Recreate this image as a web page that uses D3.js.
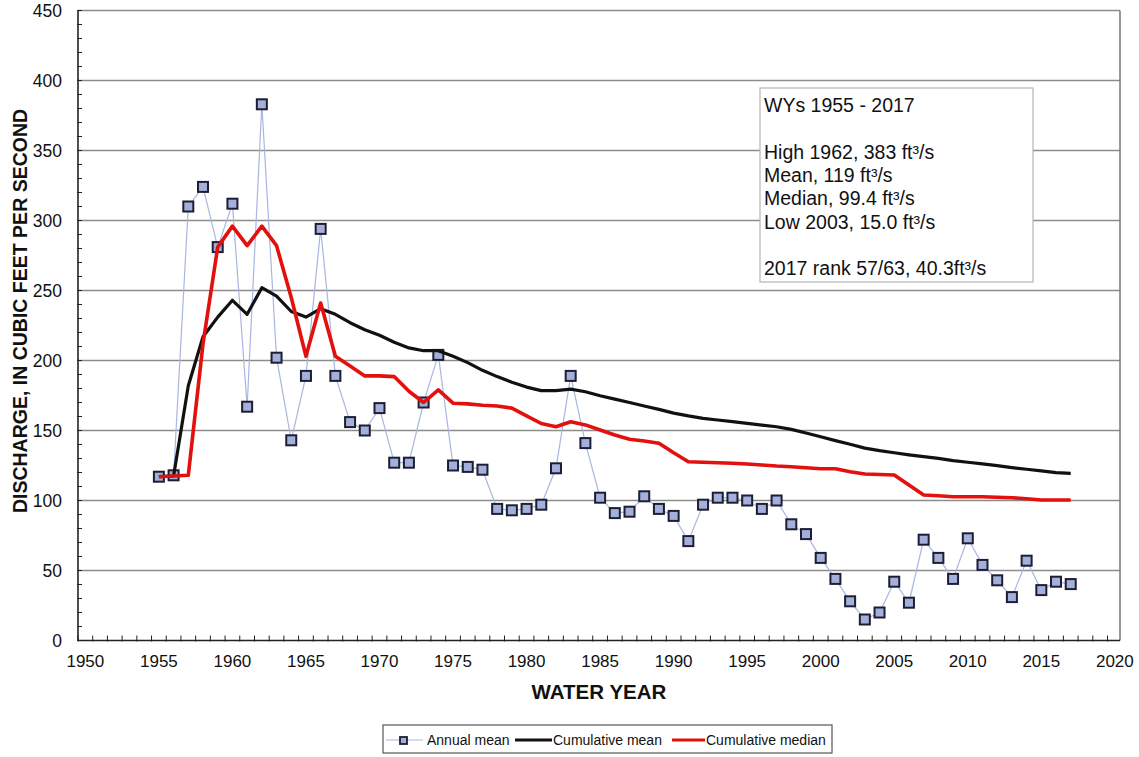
<!DOCTYPE html>
<html lang="en">
<head>
<meta charset="UTF-8">
<title>Annual mean discharge, WYs 1955 - 2017</title>
<script src="https://d3js.org/d3.v7.min.js"></script>
<style>
  body { margin: 0; background: #fff; }
  svg { display: block; font-family: "Liberation Sans", Arial, sans-serif; }
</style>
</head>
<body>
<svg id="chart" width="1139" height="757"></svg>
<script>
// water years, first one of the record
var firstYear = 1955;

// annual mean discharge, ft3/s
var annualMean = [117, 118, 310, 324, 281, 312, 167, 383, 202, 143,
                  189, 294, 189, 156, 150, 166, 127, 127, 170, 204,
                  125, 124, 122, 94, 93, 94, 97, 123, 189, 141,
                  102, 91, 92, 103, 94, 89, 71, 97, 102, 102,
                  100, 94, 100, 83, 76, 59, 44, 28, 15, 20,
                  42, 27, 72, 59, 44, 73, 54, 43, 31, 57,
                  36, 42, 40.3];

// cumulative mean, ft3/s
var cumMean = [117, 117.5, 182, 217, 231, 243, 233, 252, 246, 235,
               231, 237, 233, 227, 222, 218, 213, 209, 207, 207,
               203, 198.5, 193, 188.5, 184.5, 181, 178.5, 178.5, 179.5, 177.7,
               174.8, 172.4, 170, 167.5, 165.1, 162.4, 160.4, 158.7, 157.5, 156.3,
               155.1, 153.9, 152.7, 150.8, 148.2, 145.5, 142.8, 140.2, 137.4, 135.6,
               134.1, 132.6, 131.3, 130.1, 128.5, 127.3, 126.1, 124.9, 123.5, 122.3,
               121.1, 119.9, 119.4];

// cumulative median, ft3/s
var cumMedian = [117, 117.5, 118, 212, 281, 296, 282, 296, 282, 245,
                 203, 241, 203, 196, 189, 189, 188.5, 178, 170, 179,
                 169.5, 169, 168, 167.5, 166, 160.5, 155, 152.7, 156.3, 154,
                 150.4, 146.8, 143.7, 142.5, 140.9, 134.1, 127.7, 127.3, 127, 126.6,
                 126.1, 125.4, 124.6, 124.1, 123.4, 122.7, 122.7, 120.6, 118.9, 118.6,
                 118.2, 111, 103.9, 103.4, 102.7, 102.7, 102.7, 102.3, 102, 101.3,
                 100.4, 100.4, 100.4];

var xTickLabels = [1950, 1955, 1960, 1965, 1970, 1975, 1980, 1985, 1990, 1995, 2000, 2005, 2010, 2015, 2020];
var yTickLabels = [0, 50, 100, 150, 200, 250, 300, 350, 400, 450];

var notes = ["WYs 1955 - 2017", "", "High 1962, 383 ft³/s", "Mean, 119 ft³/s",
             "Median, 99.4 ft³/s", "Low 2003, 15.0 ft³/s", "", "2017 rank 57/63, 40.3ft³/s"];

var svg = d3.select("#chart");
// plot frame (window.top is taken, so prefixed names)
var plotL = 78, plotR = 1120, plotT = 10.5, plotB = 640.5;

// points sit in the middle of each year, ticks on the year boundaries
var x = d3.scaleLinear().domain([1949.5, 2020.35]).range([plotL, plotR]);
var y = d3.scaleLinear().domain([0, 450]).range([plotB, plotT]);

var years = annualMean.map(function(d, i) { return firstYear + i; });

svg.append("rect").attr("width", 1139).attr("height", 757).attr("fill", "#fff");

// grid
svg.append("g").selectAll("line")
  .data(yTickLabels.slice(1))
  .join("line")
  .attr("x1", plotL).attr("x2", plotR)
  .attr("y1", function(d) { return y(d); }).attr("y2", function(d) { return y(d); })
  .attr("stroke", "#8c8c8c").attr("stroke-width", 1.3);

svg.append("line").attr("x1", plotR).attr("x2", plotR).attr("y1", plotT).attr("y2", plotB)
  .attr("stroke", "#777").attr("stroke-width", 1.5);

// minor ticks
svg.append("g").selectAll("line")
  .data(d3.range(0, 451, 10))
  .join("line")
  .attr("x1", plotL - 1).attr("x2", plotL + 4)
  .attr("y1", function(d) { return y(d); }).attr("y2", function(d) { return y(d); })
  .attr("stroke", "#222").attr("stroke-width", 1);

svg.append("g").selectAll("line")
  .data(d3.range(1949.5, 2020.4, 1))
  .join("line")
  .attr("x1", function(d) { return x(d); }).attr("x2", function(d) { return x(d); })
  .attr("y1", plotB + 1).attr("y2", plotB - 5)
  .attr("stroke", "#222").attr("stroke-width", 1);

// axes
svg.append("line").attr("x1", plotL).attr("x2", plotL).attr("y1", plotT).attr("y2", plotB)
  .attr("stroke", "#222").attr("stroke-width", 1.6);
svg.append("line").attr("x1", plotL).attr("x2", plotR).attr("y1", plotB).attr("y2", plotB)
  .attr("stroke", "#222").attr("stroke-width", 1.6);

svg.append("g").selectAll("text")
  .data(yTickLabels)
  .join("text")
  .attr("x", 62).attr("y", function(d) { return y(d); })
  .attr("dy", "0.36em")
  .attr("text-anchor", "end")
  .attr("font-size", 17.5).attr("fill", "#111")
  .text(function(d) { return d; });

svg.append("g").selectAll("text")
  .data(xTickLabels)
  .join("text")
  .attr("x", function(d) { return x(d); }).attr("y", 667)
  .attr("text-anchor", "middle")
  .attr("font-size", 17).attr("fill", "#111")
  .text(function(d) { return d; });

svg.append("text")
  .attr("transform", "translate(27,311) rotate(-90)")
  .attr("text-anchor", "middle")
  .attr("font-size", 19.5).attr("font-weight", "bold").attr("fill", "#111")
  .text("DISCHARGE, IN CUBIC FEET PER SECOND");

svg.append("text")
  .attr("x", 599).attr("y", 699)
  .attr("text-anchor", "middle")
  .attr("font-size", 20.5).attr("font-weight", "bold").attr("fill", "#111")
  .text("WATER YEAR");

// annual mean
svg.append("path")
  .datum(annualMean)
  .attr("fill", "none")
  .attr("stroke", "#a9b6e0").attr("stroke-width", 1.2)
  .attr("d", d3.line().x(function(d, i) { return x(years[i]); }).y(function(d) { return y(d); }));

svg.append("g").selectAll("rect")
  .data(annualMean)
  .join("rect")
  .attr("x", function(d, i) { return x(years[i]) - 5; })
  .attr("y", function(d) { return y(d) - 5; })
  .attr("width", 10).attr("height", 10)
  .attr("fill", "#a4afdc").attr("stroke", "#1c1f33").attr("stroke-width", 2);

// cumulative lines
svg.append("path")
  .datum(cumMean)
  .attr("fill", "none")
  .attr("stroke", "#111").attr("stroke-width", 3.2).attr("stroke-linejoin", "round")
  .attr("d", d3.line().x(function(d, i) { return x(years[i]); }).y(function(d) { return y(d); }));

svg.append("path")
  .datum(cumMedian)
  .attr("fill", "none")
  .attr("stroke", "#e3100e").attr("stroke-width", 3.6).attr("stroke-linejoin", "round")
  .attr("d", d3.line().x(function(d, i) { return x(years[i]); }).y(function(d) { return y(d); }));

// stats box
var box = svg.append("g");
box.append("rect")
  .attr("x", 760).attr("y", 88).attr("width", 273).attr("height", 194)
  .attr("fill", "#fff").attr("stroke", "#b5b5b5").attr("stroke-width", 1.2);
box.selectAll("text")
  .data(notes)
  .join("text")
  .attr("x", 764).attr("y", function(d, i) { return 112 + i * 23.3; })
  .attr("font-size", 19.5).attr("fill", "#111")
  .text(function(d) { return d; });

// legend
var lg = svg.append("g");
lg.append("rect")
  .attr("x", 383).attr("y", 725).attr("width", 449).attr("height", 28)
  .attr("fill", "#fff").attr("stroke", "#555").attr("stroke-width", 1.2);
lg.append("line").attr("x1", 386).attr("x2", 423).attr("y1", 740).attr("y2", 740)
  .attr("stroke", "#a9b6e0").attr("stroke-width", 1.2);
lg.append("rect").attr("x", 400).attr("y", 737).attr("width", 7).attr("height", 7)
  .attr("fill", "#a4afdc").attr("stroke", "#1c1f33").attr("stroke-width", 1.8);
lg.append("text").attr("x", 427).attr("y", 745).attr("font-size", 14).attr("fill", "#111").text("Annual mean");
lg.append("line").attr("x1", 515).attr("x2", 552).attr("y1", 740).attr("y2", 740)
  .attr("stroke", "#111").attr("stroke-width", 3);
lg.append("text").attr("x", 553).attr("y", 745).attr("font-size", 14).attr("fill", "#111").text("Cumulative mean");
lg.append("line").attr("x1", 672).attr("x2", 705).attr("y1", 740).attr("y2", 740)
  .attr("stroke", "#e3100e").attr("stroke-width", 3);
lg.append("text").attr("x", 706).attr("y", 745).attr("font-size", 14).attr("fill", "#111").text("Cumulative median");
</script>
</body>
</html>
